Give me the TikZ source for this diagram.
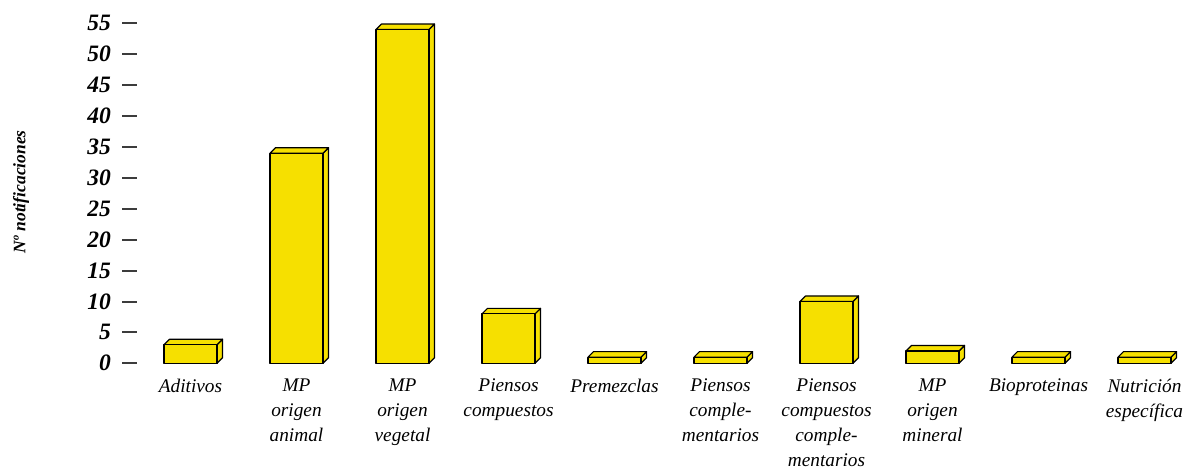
\documentclass[tikz,border=0pt]{standalone}
\usepackage{fontspec}
\setmainfont{Liberation Serif}
\definecolor{barfill}{RGB}{246,224,0}
\definecolor{tickcol}{RGB}{60,60,60}
\begin{document}
\begin{tikzpicture}[x=1pt,y=-1pt,
  ticklab/.style={anchor=east,inner sep=0pt,font=\fontsize{23.5}{23.5}\selectfont\bfseries\itshape},
  catlab/.style={anchor=north,inner sep=0pt,align=center,font=\fontsize{19.3}{25}\selectfont\itshape},
  tickline/.style={draw=tickcol,line width=2pt},
  barface/.style={fill=barfill,draw=black,line width=1.2pt,line join=round}]
\useasboundingbox (0,0) rectangle (1184,470);
% y axis title
\node[rotate=90,inner sep=0pt,font=\fontsize{17.5}{17.5}\selectfont\bfseries\itshape] (ytitle) at (21,192) {Nº notificaciones};
% ticks
\foreach \v in {0,5,...,55}{
  \pgfmathsetmacro{\yy}{round(363.3-6.18*\v)}
  \draw[tickline] (122,\yy) -- (137,\yy);
  \node[ticklab] (t\v) at (111,\yy) {\v};
}
% bars
\foreach \i/\val in {0/3,1/34,2/54,3/8,4/1,5/1,6/10,7/2,8/1,9/1}{
  \pgfmathsetmacro{\xa}{164+106*\i}
  \pgfmathsetmacro{\xb}{\xa+53}
  \pgfmathsetmacro{\top}{363.3-6.18*\val}
  \pgfmathsetmacro{\d}{5.5}
  \draw[barface] (\xb,363.3) -- (\xb+\d,363.3-\d) -- (\xb+\d,\top-\d) -- (\xb,\top) -- cycle;
  \draw[barface] (\xa,\top) -- (\xa+\d,\top-\d) -- (\xb+\d,\top-\d) -- (\xb,\top) -- cycle;
  \draw[barface] (\xa,363.3) rectangle (\xb,\top);
}
% category labels
\node[catlab] (l0) at (190.5,379) {Aditivos};
\node[catlab] (l1) at (296.5,379) {MP\\origen\\animal};
\node[catlab] (l2) at (402.5,379) {MP\\origen\\vegetal};
\node[catlab] (l3) at (508.5,379) {Piensos\\compuestos};
\node[catlab] (l4) at (614.5,379) {Premezclas};
\node[catlab] (l5) at (720.5,379) {Piensos\\comple-\\mentarios};
\node[catlab] (l6) at (826.5,379) {Piensos\\compuestos\\comple-\\mentarios};
\node[catlab] (l7) at (932.5,379) {MP\\origen\\mineral};
\node[catlab] (l8) at (1038.5,379) {Bioproteinas};
\node[catlab] (l9) at (1144.5,379) {Nutrición\\específica};
\end{tikzpicture}
\end{document}
